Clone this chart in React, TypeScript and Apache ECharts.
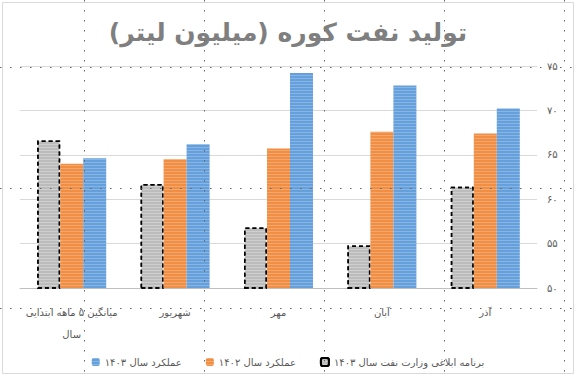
import React, { useEffect, useRef } from "react";
import * as echarts from "echarts";

const categories = ["میانگین ۵ ماهه ابتدایی\nسال", "شهریور", "مهر", "آبان", "آذر"];
const planSeries = [66.6, 61.7, 56.8, 54.8, 61.4];
const perf1402 = [64.0, 64.5, 65.7, 67.6, 67.4];
const perf1403 = [64.6, 66.2, 74.2, 72.8, 70.2];
const seriesNames = ["برنامه ابلاغی وزارت نفت سال ۱۴۰۳", "عملکرد سال ۱۴۰۲", "عملکرد سال ۱۴۰۳"];
const titleText = "تولید نفت کوره (میلیون لیتر)";

const toFa = (v: number | string) =>
  String(v).replace(/[0-9]/g, (d) => "۰۱۲۳۴۵۶۷۸۹"[Number(d)]);

const FONT = "DejaVu Sans";

export default function App() {
  const ref = useRef<HTMLDivElement>(null);
  useEffect(() => {
    if (!ref.current) return;
    const chart = echarts.init(ref.current, null, { renderer: "svg" });
    const stripe = (c: string) => ({
      symbol: "rect",
      symbolSize: 1,
      dashArrayX: [1, 0],
      dashArrayY: [1, 2],
      rotation: 0,
      color: c,
    });
    const dotStyle = { fill: null, stroke: "#666666", lineWidth: 1, lineDash: [1.5, 8.5] };
    const dots: any[] = [];
    [67, 188, 308].forEach((y) =>
      dots.push({
        type: "polyline",
        z: 100,
        silent: true,
        shape: { points: [[0, y + 0.5], [576, y + 0.5]] },
        style: dotStyle,
      })
    );
    dots.push({
      type: "rect",
      z: 90,
      silent: true,
      shape: { x: 2.5, y: 2.5, width: 571, height: 371 },
      style: { fill: "none", stroke: "#d9d9d9", lineWidth: 1 },
    });
    chart.setOption({
      animation: false,
      backgroundColor: "#ffffff",
      aria: { enabled: true, decal: { show: true } },
      title: {
        text: titleText,
        left: "center",
        top: 15,
        textStyle: { fontFamily: FONT, fontSize: 25, fontWeight: "bold", color: "#7f7f7f" },
      },
      legend: {
        data: [seriesNames[2], seriesNames[1], seriesNames[0]],
        left: "center",
        top: 352,
        itemWidth: 8,
        itemHeight: 8,
        itemGap: 24,
        textStyle: { fontFamily: FONT, fontSize: 10, color: "#595959" },
      },
      grid: [
        { left: 20, right: 39, top: 66, bottom: 89, containLabel: false },
        { left: 84, width: 480, top: 0, bottom: 0, containLabel: false },
      ],
      xAxis: [
        {
          type: "category",
          data: categories,
          axisLine: { lineStyle: { color: "#bfbfbf", width: 1 } },
          axisTick: { show: false },
          axisLabel: {
            margin: 13,
            fontFamily: FONT,
            fontSize: 10,
            color: "#595959",
            lineHeight: 22,
            interval: 0,
          },
        },
        {
          type: "value",
          gridIndex: 1,
          min: 0,
          max: 480,
          interval: 120,
          z: 20,
          axisLine: { show: false },
          axisTick: { show: false },
          axisLabel: { show: false },
          splitLine: { show: true, lineStyle: { color: "#666666", width: 1, type: [1.5, 8.5] } },
        },
      ],
      yAxis: [
        {
          type: "value",
          position: "right",
          min: 50,
          max: 75,
          interval: 5,
          axisLine: { show: false },
          axisTick: { show: false },
          splitLine: { lineStyle: { color: "#d9d9d9", width: 1 } },
          axisLabel: {
            margin: 10,
            fontFamily: FONT,
            fontSize: 10,
            color: "#595959",
            formatter: (v: number) => toFa(v),
          },
        },
        {
          type: "value",
          gridIndex: 1,
          min: 0,
          max: 1,
          show: false,
          splitLine: { show: false },
        },
      ],
      series: [
        {
          name: seriesNames[0],
          type: "bar",
          data: planSeries,
          barWidth: 23,
          barGap: "0%",
          itemStyle: {
            color: "#bcbcbc",
            borderColor: "#000000",
            borderWidth: 1.5,
            borderType: [4, 3],
            decal: stripe("rgba(255,255,255,0.28)"),
          },
        },
        {
          name: seriesNames[1],
          type: "bar",
          data: perf1402,
          barWidth: 23,
          barGap: "0%",
          itemStyle: { color: "#f08e43", decal: stripe("rgba(255,255,255,0.22)") },
        },
        {
          name: seriesNames[2],
          type: "bar",
          data: perf1403,
          barWidth: 23,
          barGap: "0%",
          itemStyle: { color: "#65a0dc", decal: stripe("rgba(255,255,255,0.22)") },
        },
        {
          type: "scatter",
          xAxisIndex: 1,
          yAxisIndex: 1,
          data: [],
          silent: true,
        },
      ],
      graphic: dots,
    });
    return () => chart.dispose();
  }, []);
  return (
    <div
      ref={ref}
      style={{ position: "absolute", left: 0, top: 0, width: 576, height: 377 }}
    />
  );
}
